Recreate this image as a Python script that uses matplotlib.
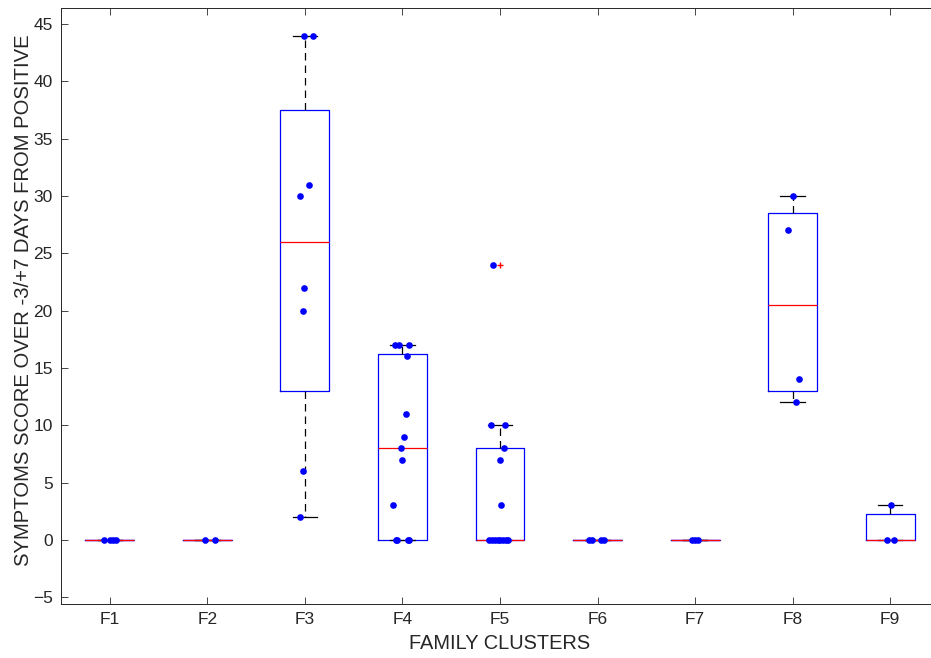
import matplotlib
matplotlib.use('Agg')
import matplotlib.pyplot as plt
import numpy as np

plt.rcParams['font.family'] = ['Liberation Sans', 'DejaVu Sans']

# scores per family cluster
labels = ['F1', 'F2', 'F3', 'F4', 'F5', 'F6', 'F7', 'F8', 'F9']
f1 = [0, 0, 0, 0]
f2 = [0, 0]
f3 = [44, 44, 31, 30, 22, 20, 6, 2]
f4 = [17, 17, 17, 16, 11, 9, 8, 7, 3, 0, 0, 0, 0]
f5 = [24, 10, 10, 8, 7, 3, 0, 0, 0, 0, 0, 0, 0, 0]
f6 = [0, 0, 0, 0]
f7 = [0, 0, 0]
f8 = [30, 27, 14, 12]
f9 = [3, 0, 0]
groups = [f1, f2, f3, f4, f5, f6, f7, f8, f9]

# horizontal jitter of each dot, as seen in the figure
j1 = [-0.06, 0.0, 0.03, 0.06]
j2 = [-0.025, 0.077]
j3 = [-0.013, 0.08, 0.04, -0.05, -0.007, -0.024, -0.02, -0.055]
j4 = [-0.077, -0.036, 0.067, 0.046, 0.033, 0.012, -0.018, -0.002, -0.094,
      -0.067, -0.06, 0.06, 0.067]
j5 = [-0.072, -0.095, 0.05, 0.04, 0.003, 0.013,
      -0.11, -0.08, -0.05, -0.02, 0.0, 0.03, 0.06, 0.08]
j6 = [-0.09, -0.06, 0.04, 0.07]
j7 = [-0.03, 0.0, 0.03]
j8 = [0.0, -0.046, 0.064, 0.03]
j9 = [0.007, -0.034, 0.034]
jitters = [j1, j2, j3, j4, j5, j6, j7, j8, j9]


def box_stats(vals, label):
    # MATLAB-style quartiles (hazen) and 1.5*IQR whiskers
    v = np.sort(np.asarray(vals, dtype=float))
    q1, med, q3 = np.percentile(v, [25, 50, 75], method='hazen')
    iqr = q3 - q1
    lo, hi = q1 - 1.5 * iqr, q3 + 1.5 * iqr
    inside = v[(v >= lo) & (v <= hi)]
    return dict(label=label, med=med, q1=q1, q3=q3,
                whislo=inside.min(), whishi=inside.max(),
                fliers=v[(v < lo) | (v > hi)])


stats = [box_stats(g, l) for g, l in zip(groups, labels)]
pos = np.arange(1, len(groups) + 1)

fig = plt.figure(figsize=(9.31, 6.58), dpi=100)
ax = fig.add_axes([61 / 931, 1 - 604 / 658, (939 - 61) / 931, (604 - 8) / 658])

TXT = '#262626'
ax.bxp(stats, positions=pos, widths=0.5, showfliers=True,
       boxprops=dict(color='blue', lw=0.9),
       medianprops=dict(color='red', lw=0.9),
       whiskerprops=dict(color='black', lw=0.9, linestyle=(0, (6, 4))),
       capprops=dict(color='black', lw=0.9),
       flierprops=dict(marker='+', markeredgecolor='red', markersize=5, lw=0),
       capwidths=0.25)

for p, g, jit in zip(pos, groups, jitters):
    ax.plot(p + np.array(jit), g, 'o', color='blue', markersize=4.8,
            markeredgewidth=0, zorder=5)

ax.set_xlim(0.5, 9.5)
ax.set_ylim(-5.6, 46.4)
ax.set_yticks(np.arange(-5, 46, 5))
ax.set_xticks(pos)
ax.set_xticklabels(labels)
ax.tick_params(direction='in', length=5, width=0.6, colors=TXT,
               labelsize=12.5, top=True, right=True, pad=6)
for s in ax.spines.values():
    s.set_color(TXT)
    s.set_linewidth(0.7)

ax.set_xlabel('FAMILY CLUSTERS', fontsize=14.4, color=TXT, labelpad=5)
ax.set_ylabel('SYMPTOMS SCORE OVER -3/+7 DAYS FROM POSITIVE',
              fontsize=14.6, color=TXT, labelpad=2)
ax.yaxis.set_label_coords(-0.032, 0.51)

fig.savefig('out.png', dpi=100)
